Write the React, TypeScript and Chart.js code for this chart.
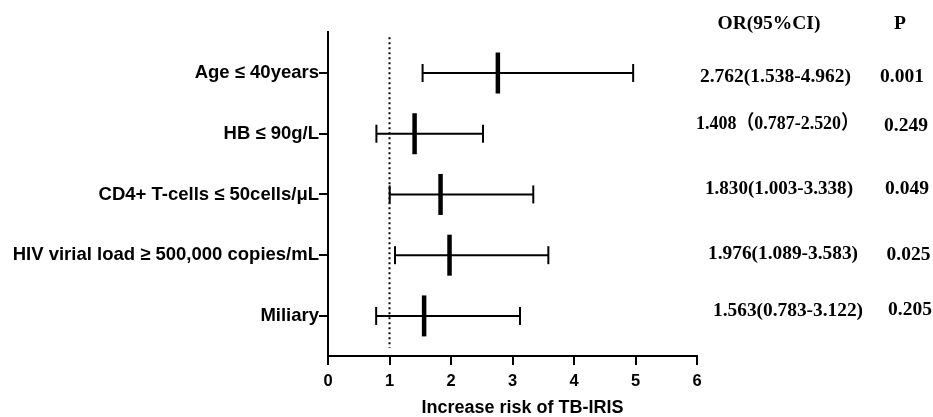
import React, { useEffect, useRef } from 'react';
import { Chart, registerables } from 'chart.js';

Chart.register(...registerables);

// ---- data ----
const categories = [
  'Age ≤ 40years',
  'HB ≤ 90g/L',
  'CD4+ T-cells ≤ 50cells/μL',
  'HIV virial load ≥ 500,000 copies/mL',
  'Miliary',
];
const orValues = [2.762, 1.408, 1.83, 1.976, 1.563];
const ciLower = [1.538, 0.787, 1.003, 1.089, 0.783];
const ciUpper = [4.962, 2.52, 3.338, 3.583, 3.122];
const orLabels = [
  '2.762(1.538-4.962)',
  '1.408（0.787-2.520）',
  '1.830(1.003-3.338)',
  '1.976(1.089-3.583)',
  '1.563(0.783-3.122)',
];
const pLabels = ['0.001', '0.249', '0.049', '0.025', '0.205'];
const xTicks = [0, 1, 2, 3, 4, 5, 6];
const refValue = 1;
const xTitle = 'Increase risk of TB-IRIS';

// ---- layout (positions / styles only) ----
const W = 933;
const H = 417;
const SANS = '"Liberation Sans", Arial, sans-serif';
const SERIF = '"Liberation Serif", "Times New Roman", "Noto Sans CJK SC", serif';
const OR_HEADER = { x: 769, y: 24 };
const P_HEADER = { x: 900, y: 24 };
const OR_COL_X = [775.5, 777.5, 779, 783, 788];
const OR_MAXW = [151, 163, 148, 150, 150];
const OR_DY = [4, -10, -5, -1, -5];
const P_COL_X = [902, 906, 907, 908.5, 910];
const P_DY = [4, -8, -5, 0, -6];
const TITLE_DX = 10;
const TITLE_Y = 408;

const textPlugin = {
  id: 'extraText',
  afterDraw(chart: any) {
    const { ctx, chartArea } = chart;
    const y = chart.scales.y;
    ctx.save();
    ctx.fillStyle = '#000';
    ctx.textAlign = 'center';
    ctx.textBaseline = 'middle';

    // axis title
    ctx.font = `bold 18px ${SANS}`;
    ctx.fillText(xTitle, (chartArea.left + chartArea.right) / 2 + TITLE_DX, TITLE_Y);

    // right-hand table
    ctx.font = `bold 19.5px ${SERIF}`;
    ctx.fillText('OR(95%CI)', OR_HEADER.x, OR_HEADER.y);
    ctx.fillText('P', P_HEADER.x, P_HEADER.y);
    orLabels.forEach((t, i) => {
      const py = y.getPixelForValue(i);
      ctx.fillText(t, OR_COL_X[i], py + OR_DY[i], OR_MAXW[i]);
      ctx.fillText(pLabels[i], P_COL_X[i], py + P_DY[i]);
    });
    ctx.restore();
  },
};

export default function App() {
  const ref = useRef<HTMLCanvasElement | null>(null);

  useEffect(() => {
    if (!ref.current) return;
    const yMin = -0.675;
    const yMax = 4.66;

    const ciSets = categories.map((_, i) => ({
      type: 'scatter' as const,
      data: [
        { x: ciLower[i], y: i },
        { x: ciUpper[i], y: i },
      ],
      showLine: true,
      borderColor: '#000',
      borderWidth: 2,
      pointStyle: 'line',
      pointRotation: 90,
      pointRadius: 9,
      pointBorderWidth: 2,
      pointBorderColor: '#000',
      pointBackgroundColor: '#000',
      clip: false,
    }));

    const orSet = {
      type: 'scatter' as const,
      data: orValues.map((v, i) => ({ x: v, y: i })),
      showLine: false,
      pointStyle: 'line',
      pointRotation: 90,
      pointRadius: 20.5,
      pointBorderWidth: 4.5,
      pointBorderColor: '#000',
      pointBackgroundColor: '#000',
      clip: false,
    };

    const refSet = {
      type: 'scatter' as const,
      data: [
        { x: refValue, y: -0.59 },
        { x: refValue, y: 4.53 },
      ],
      showLine: true,
      borderColor: '#000',
      borderWidth: 2,
      borderDash: [2, 3],
      pointRadius: 0,
      clip: false,
    };

    const chart = new Chart(ref.current, {
      type: 'scatter',
      data: { datasets: [orSet, ...ciSets, refSet] as any },
      options: {
        animation: false,
        responsive: false,
        maintainAspectRatio: false,
        layout: { padding: { left: 0, right: W - 697, top: 32, bottom: 0 } },
        plugins: {
          legend: { display: false },
          tooltip: { enabled: false },
        },
        scales: {
          x: {
            type: 'linear',
            min: 0,
            max: 6,
            afterBuildTicks: (scale: any) => {
              scale.ticks = xTicks.map((v) => ({ value: v }));
            },
            afterFit: (scale: any) => {
              scale.height = H - 356;
            },
            ticks: {
              color: '#000',
              font: { family: SANS, size: 16.5, weight: 'bold' },
              padding: 7,
              maxRotation: 0,
              autoSkip: false,
            },
            grid: {
              drawOnChartArea: false,
              drawTicks: true,
              tickLength: 9,
              color: '#000',
              lineWidth: 2,
            },
            border: { display: true, color: '#000', width: 2 },
            title: { display: false },
          },
          y: {
            type: 'linear',
            reverse: true,
            min: yMin,
            max: yMax,
            afterBuildTicks: (scale: any) => {
              scale.ticks = categories.map((_, i) => ({ value: i }));
            },
            afterFit: (scale: any) => {
              scale.width = 328;
            },
            ticks: {
              color: '#000',
              font: { family: SANS, size: 18.5, weight: 'bold' },
              padding: 0,
              autoSkip: false,
              callback: (v: any) => categories[Math.round(Number(v))] ?? '',
            },
            grid: {
              drawOnChartArea: false,
              drawTicks: true,
              tickLength: 9,
              color: '#000',
              lineWidth: 2,
            },
            border: { display: true, color: '#000', width: 2 },
          },
        },
      },
      plugins: [textPlugin],
    });
    return () => chart.destroy();
  }, []);

  return (
    <div style={{ position: 'fixed', left: 0, top: 0, width: W, height: H, background: '#fff' }}>
      <canvas ref={ref} width={W} height={H} style={{ width: W, height: H, display: 'block' }} />
    </div>
  );
}
